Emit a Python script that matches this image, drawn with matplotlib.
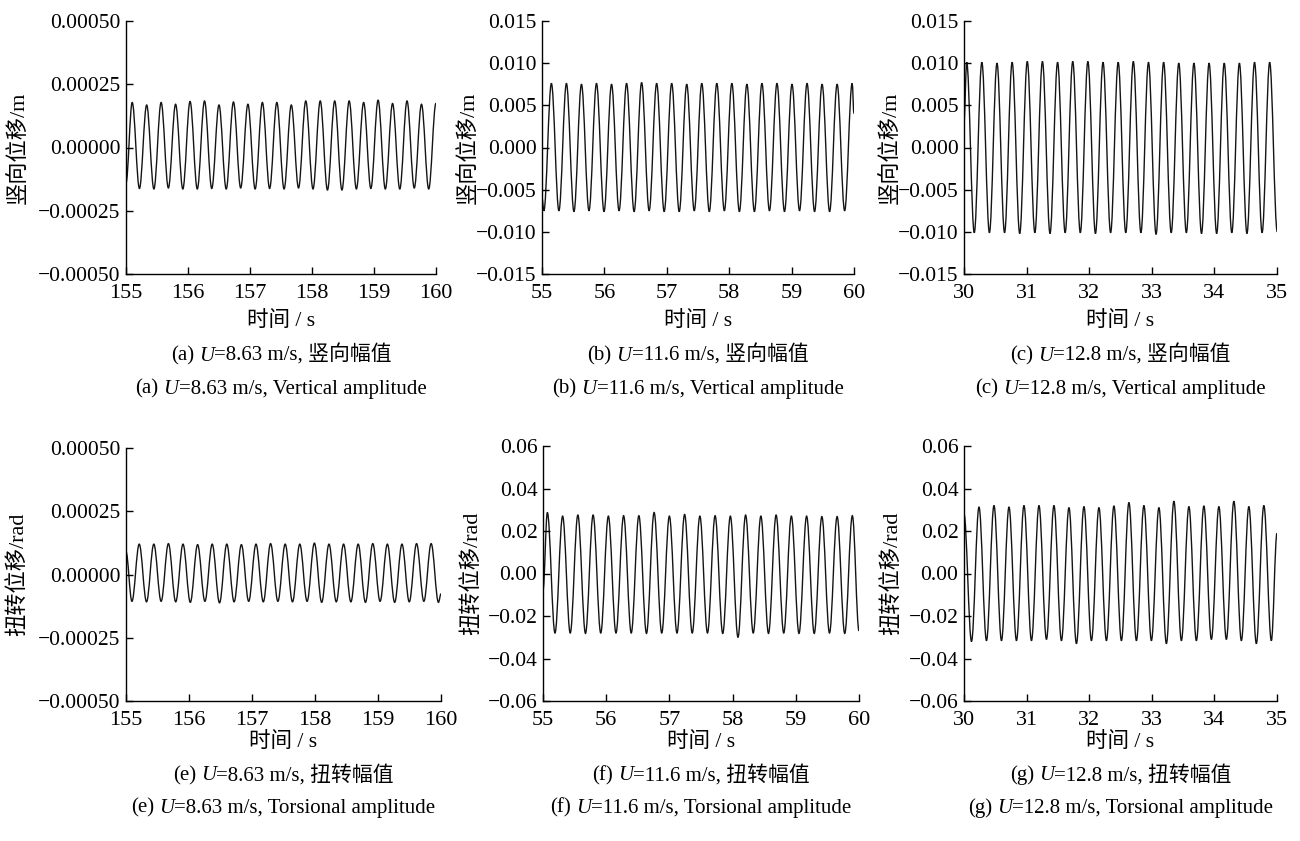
import matplotlib
matplotlib.use("Agg")
import matplotlib.pyplot as plt
from matplotlib.path import Path
from matplotlib.patches import PathPatch
from matplotlib.offsetbox import TextArea, HPacker, AnnotationBbox
from matplotlib.ticker import FuncFormatter, MultipleLocator

FONT = ['Liberation Serif', 'Noto Sans CJK SC']
plt.rcParams['font.family'] = FONT

# ---- wind tunnel records: extrema of each oscillation cycle ----
# (a) vertical, U=8.63 m/s
a_peaks = [1.78e-4, 1.68e-4, 1.78e-4, 1.71e-4, 1.82e-4, 1.84e-4, 1.68e-4, 1.80e-4,
           1.71e-4, 1.78e-4, 1.78e-4, 1.68e-4, 1.84e-4, 1.84e-4, 1.84e-4, 1.84e-4,
           1.78e-4, 1.87e-4, 1.74e-4, 1.84e-4, 1.71e-4, 1.75e-4]
a_troughs = [-1.62e-4, -1.64e-4, -1.60e-4, -1.64e-4, -1.64e-4, -1.62e-4, -1.64e-4,
             -1.60e-4, -1.64e-4, -1.62e-4, -1.64e-4, -1.60e-4, -1.64e-4, -1.68e-4,
             -1.68e-4, -1.64e-4, -1.62e-4, -1.64e-4, -1.64e-4, -1.60e-4, -1.64e-4]
# (b) vertical, U=11.6 m/s
b_peaks = [0.0076, 0.0076, 0.0075, 0.0076, 0.0075, 0.0076, 0.0077, 0.0076, 0.0076,
           0.0075, 0.0076, 0.0076, 0.0076, 0.0075, 0.0076, 0.0076, 0.0075, 0.0076,
           0.0075, 0.0075, 0.0076]
b_troughs = [-0.0075, -0.0075, -0.0076, -0.0075, -0.0076, -0.0075, -0.0076, -0.0075,
             -0.0076, -0.0076, -0.0075, -0.0076, -0.0075, -0.0076, -0.0076, -0.0075,
             -0.0076, -0.0075, -0.0076, -0.0076, -0.0075]
# (c) vertical, U=12.8 m/s
c_peaks = [0.0101, 0.0101, 0.0100, 0.0101, 0.0102, 0.0102, 0.0101, 0.0102, 0.0102,
           0.0101, 0.0101, 0.0102, 0.0101, 0.0101, 0.0100, 0.0100, 0.0100, 0.0100,
           0.0100, 0.0101, 0.0101]
c_troughs = [-0.0101, -0.0101, -0.0101, -0.0102, -0.0101, -0.0102, -0.0101, -0.0101,
             -0.0102, -0.0101, -0.0101, -0.0101, -0.0103, -0.0101, -0.0101, -0.0102,
             -0.0102, -0.0101, -0.0102, -0.0101, -0.0100]
# (e) torsional, U=8.63 m/s
e_peaks = [1.20e-4, 1.20e-4, 1.22e-4, 1.20e-4, 1.18e-4, 1.20e-4, 1.20e-4, 1.18e-4,
           1.20e-4, 1.22e-4, 1.20e-4, 1.20e-4, 1.24e-4, 1.20e-4, 1.20e-4, 1.20e-4,
           1.22e-4, 1.20e-4, 1.20e-4, 1.22e-4, 1.22e-4]
e_troughs = [-1.06e-4, -1.08e-4, -1.06e-4, -1.08e-4, -1.10e-4, -1.06e-4, -1.12e-4,
             -1.08e-4, -1.06e-4, -1.08e-4, -1.06e-4, -1.08e-4, -1.06e-4, -1.10e-4,
             -1.08e-4, -1.08e-4, -1.10e-4, -1.06e-4, -1.10e-4, -1.08e-4, -1.06e-4,
             -1.10e-4]
# (f) torsional, U=11.6 m/s
f_peaks = [0.0287, 0.0270, 0.0275, 0.0275, 0.0270, 0.0272, 0.0272, 0.0287, 0.0270,
           0.0278, 0.0270, 0.0272, 0.0270, 0.0275, 0.0270, 0.0275, 0.0270, 0.0270,
           0.0268, 0.0268, 0.0272]
f_troughs = [-0.0280, -0.0280, -0.0282, -0.0280, -0.0280, -0.0280, -0.0282, -0.0280,
             -0.0280, -0.0280, -0.0280, -0.0282, -0.0300, -0.0280, -0.0282, -0.0280,
             -0.0282, -0.0282, -0.0280, -0.0282]
# (g) torsional, U=12.8 m/s
g_peaks = [0.0280, 0.0313, 0.0320, 0.0313, 0.0320, 0.0320, 0.0320, 0.0310, 0.0315,
           0.0310, 0.0318, 0.0334, 0.0320, 0.0310, 0.0340, 0.0315, 0.0318, 0.0315,
           0.0340, 0.0315, 0.0320]
g_troughs = [-0.0320, -0.0316, -0.0316, -0.0316, -0.0316, -0.0310, -0.0316, -0.0330,
             -0.0316, -0.0316, -0.0316, -0.0316, -0.0316, -0.0330, -0.0316, -0.0316,
             -0.0310, -0.0310, -0.0316, -0.0330, -0.0316]

# timing of first extremum, half period, which comes first, values at the window edges
timing = {
    'a': (155.100, 0.11665, 'peak', -1.4e-4, None),
    'b': (55.030, 0.12050, 'trough', -0.0060, 0.0040),
    'c': (30.043, 0.12100, 'peak', 0.0030, None),
    'e': (155.094, 0.11585, 'trough', 9.0e-5, -7.6e-5),
    'f': (55.069, 0.12065, 'peak', -0.0080, -0.0270),
    'g': (30.000, 0.11975, 'peak', None, 0.0190),
}

x_ranges = {'a': (155, 160), 'b': (55, 60), 'c': (30, 35),
            'e': (155, 160), 'f': (55, 60), 'g': (30, 35)}
y_lims = {'a': 0.0005, 'b': 0.015, 'c': 0.015, 'e': 0.0005, 'f': 0.06, 'g': 0.06}
y_steps = {'a': 0.00025, 'b': 0.005, 'c': 0.005, 'e': 0.00025, 'f': 0.02, 'g': 0.02}
y_digits = {'a': 5, 'b': 3, 'c': 3, 'e': 5, 'f': 2, 'g': 2}
series = {'a': (a_peaks, a_troughs), 'b': (b_peaks, b_troughs), 'c': (c_peaks, c_troughs),
          'e': (e_peaks, e_troughs), 'f': (f_peaks, f_troughs), 'g': (g_peaks, g_troughs)}

speeds = {'a': '8.63', 'b': '11.6', 'c': '12.8', 'e': '8.63', 'f': '11.6', 'g': '12.8'}
ylabel_v = '竖向位移/m'
ylabel_t = '扭转位移/rad'
xlabel = '时间 / s'

W, H = 1300, 841
# axes boxes in pixels: left, top, right, bottom
boxes = {'a': (126, 21, 436, 274), 'b': (542, 21, 854, 274), 'c': (964, 21, 1277, 274),
         'e': (126, 448, 441, 701), 'f': (543, 446, 859, 701), 'g': (964, 446, 1277, 701)}
ylabel_x = {'a': 18, 'b': 468, 'c': 890, 'e': 18, 'f': 472, 'g': 892}


def wave_path(ts, ys, c=0.36):
    # cubic segments with flat tangents at each extremum
    verts = [(ts[0], ys[0])]
    codes = [Path.MOVETO]
    for i in range(len(ts) - 1):
        dt = ts[i + 1] - ts[i]
        verts += [(ts[i] + c * dt, ys[i]), (ts[i + 1] - c * dt, ys[i + 1]), (ts[i + 1], ys[i + 1])]
        codes += [Path.CURVE4] * 3
    return Path(verts, codes)


def caption(fig, xc, yc, tag, rest, size=15):
    props = dict(fontsize=size, family=FONT)
    head = TextArea(tag, textprops=props)
    u = TextArea('U', textprops=dict(props, style='italic'))
    tail = TextArea(rest, textprops=props)
    body = HPacker(children=[u, tail], pad=0, sep=0, align='baseline')
    pack = HPacker(children=[head, body], pad=0, sep=3.5, align='baseline')
    ab = AnnotationBbox(pack, (xc / W, 1 - yc / H), xycoords='figure fraction',
                        frameon=False, box_alignment=(0.5, 0.5), pad=0)
    fig.add_artist(ab)


def minus_fmt(nd):
    return FuncFormatter(lambda v, pos: ('%.*f' % (nd, v)).replace('-', '\u2212'))


fig = plt.figure(figsize=(13, 8.41), dpi=100)

for key in ['a', 'b', 'c', 'e', 'f', 'g']:
    l, t, r, b = boxes[key]
    ax = fig.add_axes([l / W, 1 - b / H, (r - l) / W, (b - t) / H])
    x0, x1 = x_ranges[key]
    t_first, half, first, v_start, v_end = timing[key]
    peaks, troughs = series[key]

    first_list, second_list = (peaks, troughs) if first == 'peak' else (troughs, peaks)
    vals = []
    for i in range(len(first_list)):
        vals.append(first_list[i])
        if i < len(second_list):
            vals.append(second_list[i])
    ts = [t_first + i * half for i in range(len(vals))]
    if v_start is not None:
        ts = [x0] + ts
        vals = [v_start] + vals
    if v_end is not None:
        ts = ts + [x1]
        vals = vals + [v_end]

    ax.add_patch(PathPatch(wave_path(ts, vals), fill=False, edgecolor='#141414', lw=1.0))

    lim = y_lims[key]
    ax.set_xlim(x0, x1)
    ax.set_ylim(-lim, lim)
    ax.xaxis.set_major_locator(MultipleLocator(1))
    ax.yaxis.set_major_locator(MultipleLocator(y_steps[key]))
    ax.yaxis.set_major_formatter(minus_fmt(y_digits[key]))
    for s in ['top', 'right']:
        ax.spines[s].set_visible(False)
    for s in ['left', 'bottom']:
        ax.spines[s].set_linewidth(1.0)
    ax.tick_params(direction='in', length=5, width=1.0)
    ax.tick_params(axis='y', labelsize=15.5, pad=4)
    ax.tick_params(axis='x', labelsize=16, pad=7)

    ylab = ylabel_v if key in 'abc' else ylabel_t
    ax.set_ylabel(ylab, fontsize=16, family=FONT, va='center')
    ax.yaxis.set_label_coords((ylabel_x[key] - l) / (r - l), 0.5)

    xc = (l + r) / 2
    row_top = key in 'abc'
    fig.text(xc / W, 1 - (321 if row_top else 742) / H, xlabel, fontsize=15.5,
             ha='center', va='center', family=FONT)
    kind_cn = '竖向幅值' if row_top else '扭转幅值'
    kind_en = 'Vertical amplitude' if row_top else 'Torsional amplitude'
    y1, y2 = (355, 389) if row_top else (775, 808)
    caption(fig, xc, y1, '(%s)' % key, '=%s m/s, %s' % (speeds[key], kind_cn))
    caption(fig, xc, y2, '(%s)' % key, '=%s m/s, %s' % (speeds[key], kind_en))

fig.savefig('out.png', dpi=100, facecolor='white')
